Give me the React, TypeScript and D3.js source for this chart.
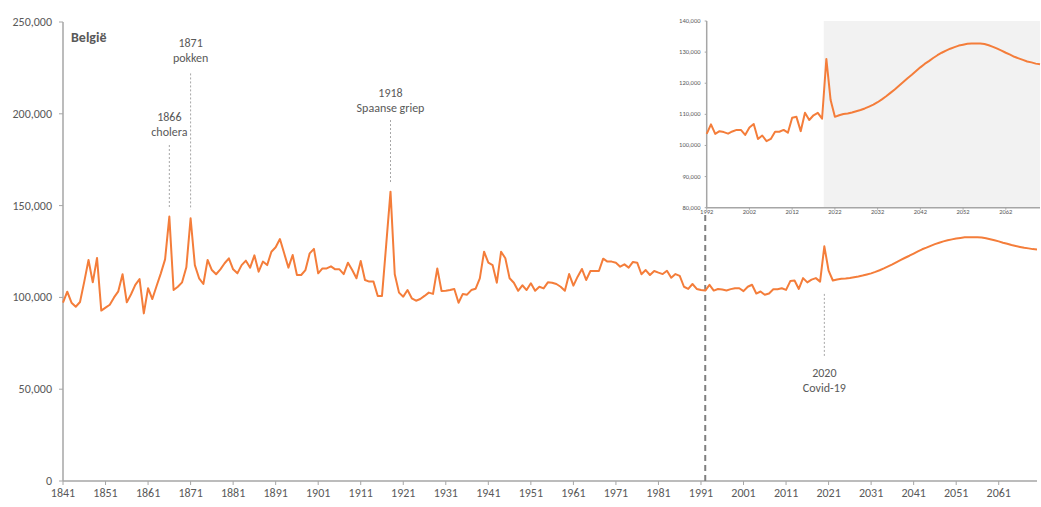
import React from 'react';
import * as d3 from 'd3';

const startYear = 1841;
// Deaths per year in Belgium (1841–2019 observed, 2020 Covid, 2021–2070 projection)
const deaths = [
  97100, 103100, 97100, 94900, 97500, 108600, 120400, 108200, 121500, 92800, // 1841-1850
  94400, 96000, 100000, 103300, 112600, 97300, 101700, 106800, 110000, 91300, // 1851-1860
  105000, 99100, 106200, 113100, 120700, 144000, 104000, 105800, 108200, 116400, // 1861-1870
  143100, 117600, 110400, 107300, 120400, 114900, 112600, 115300, 118600, 121300, // 1871-1880
  115300, 113100, 117600, 120000, 116200, 122900, 114000, 119500, 117600, 124900, // 1881-1890
  127300, 131800, 124000, 116200, 123100, 112200, 112200, 114900, 124000, 126400, // 1891-1900
  113100, 115800, 115800, 116900, 115300, 115300, 112700, 118900, 114900, 110400, // 1901-1910
  119800, 109500, 108600, 108600, 100800, 100800, 129000, 157600, 112600, 102600, // 1911-1920
  100400, 104000, 99500, 98200, 99100, 100800, 102600, 101900, 115800, 103500, // 1921-1930
  103600, 104000, 104600, 97100, 101900, 101500, 104000, 104700, 110400, 124900, // 1931-1940
  118900, 117600, 108000, 124900, 121300, 110400, 108000, 103600, 106600, 104000, // 1941-1950
  107700, 103600, 105800, 104900, 108200, 108000, 107300, 105800, 103600, 112700, // 1951-1960
  106400, 111300, 115500, 109500, 114400, 114400, 114400, 121100, 119500, 119500, // 1961-1970
  118900, 116700, 118000, 116200, 119300, 118900, 112600, 114900, 112200, 114400, // 1971-1980
  113500, 112700, 114500, 110700, 112700, 111700, 105800, 104600, 107300, 104600, // 1981-1990
  104000, 103700, 106800, 103700, 104600, 104300, 103800, 104500, 105000, 105000, // 1991-2000
  103400, 105800, 106900, 102100, 103200, 101400, 102100, 104400, 104400, 105000, // 2001-2010
  104100, 108900, 109200, 104600, 110500, 108200, 109700, 110500, 108600, 127800, // 2011-2020
  114600, 109200, 109700, 110100, 110300, 110600, 111000, 111400, 111900, 112500, // 2021-2030
  113100, 113900, 114800, 115800, 116900, 118000, 119200, 120400, 121600, 122700, // 2031-2040
  123900, 125100, 126200, 127100, 128100, 129000, 129800, 130500, 131100, 131600, // 2041-2050
  132100, 132400, 132700, 132800, 132800, 132800, 132600, 132200, 131700, 131100, // 2051-2060
  130500, 129800, 129200, 128500, 128000, 127500, 127000, 126700, 126300, 126100, // 2061-2070
];

const yTicks = [0, 50000, 100000, 150000, 200000, 250000];
const xTickYears = [1841, 1851, 1861, 1871, 1881, 1891, 1901, 1911, 1921, 1931, 1941, 1951, 1961, 1971, 1981, 1991, 2001, 2011, 2021, 2031, 2041, 2051, 2061];
const insetStartYear = 1992;
const insetYTicks = [80000, 90000, 100000, 110000, 120000, 130000, 140000];
const insetXTicks = [1992, 2002, 2012, 2022, 2032, 2042, 2052, 2062];
const projectionStart = 2019.4;

const annotationYears = [1866, 1871, 1918, 2020];
const annotationLabels = [['1866', 'cholera'], ['1871', 'pokken'], ['1918', 'Spaanse griep'], ['2020', 'Covid-19']];
// label value level, dashed line top value, dashed line bottom value
const annotationLevels = [
  [198300, 183000, 148500],
  [238600, 222000, 147800],
  [211200, 196600, 161800],
  [59000, 101900, 67400],
];

const title = 'België';

const ORANGE = '#F47D3A';
const GREY_TXT = '#595959';
const AXIS = '#A6A6A6';
const FONT = "Carlito, Calibri, 'Liberation Sans', Arial, sans-serif";

export default function App() {
  const years = deaths.map((_, i) => startYear + i);
  const x = d3.scaleLinear().domain([1841, 2070]).range([63, 1037]);
  const y = d3.scaleLinear().domain([0, 250000]).range([481, 22]);
  const line = d3.line<number>().x((_, i) => x(years[i])).y((d) => y(d));
  const fmt = d3.format(',');

  const insetIdx = years.map((yr, i) => (yr >= insetStartYear ? i : -1)).filter((i) => i >= 0);
  const ix = d3.scaleLinear().domain([1992, 2070]).range([706.7, 1040]);
  const iy = d3.scaleLinear().domain([80000, 140000]).range([207.7, 21]);
  const iline = d3.line<number>().x((i) => ix(years[i])).y((i) => iy(deaths[i]));

  return (
    <svg width={1041} height={507} style={{ position: 'absolute', left: 0, top: 0, fontFamily: FONT }}>
      <rect x={0} y={0} width={1041} height={507} fill="#fff" />
      {/* Inset background */}
      <rect x={ix(projectionStart)} y={iy(140000)} width={ix(2070) - ix(projectionStart)} height={iy(80000) - iy(140000)} fill="#F2F2F2" />

      {/* main y axis */}
      <line x1={63} x2={63} y1={y(250000)} y2={y(0)} stroke={AXIS} strokeWidth={1.5} />
      {yTicks.map((t) => (
        <g key={t}>
          <line x1={59} x2={63} y1={y(t)} y2={y(t)} stroke={AXIS} strokeWidth={1} />
          <text x={52} y={y(t)} textAnchor="end" dominantBaseline="central" fontSize={12} fill={GREY_TXT}>{fmt(t)}</text>
        </g>
      ))}
      {/* main x axis */}
      <line x1={63} x2={1037} y1={y(0)} y2={y(0)} stroke={AXIS} strokeWidth={1.5} />
      {xTickYears.map((t) => (
        <g key={t}>
          <line x1={x(t)} x2={x(t)} y1={y(0)} y2={y(0) + 4} stroke={AXIS} strokeWidth={1} />
          <text x={x(t)} y={493} textAnchor="middle" dominantBaseline="central" fontSize={12} fill={GREY_TXT}>{t}</text>
        </g>
      ))}

      <text x={71} y={37} fontSize={14} fontWeight="bold" fill={GREY_TXT} dominantBaseline="central">{title}</text>

      {/* annotations */}
      {annotationYears.map((yr, k) => (
        <g key={yr}>
          <line x1={x(yr)} x2={x(yr)} y1={y(annotationLevels[k][1])} y2={y(annotationLevels[k][2])} stroke={AXIS} strokeWidth={1} strokeDasharray="2,2" />
          {annotationLabels[k].map((s, j) => (
            <text key={j} x={x(yr)} y={y(annotationLevels[k][0]) + j * 15} textAnchor="middle" dominantBaseline="central" fontSize={12} fill={GREY_TXT}>{s}</text>
          ))}
        </g>
      ))}

      {/* 1992 divider */}
      <line x1={x(1992)} x2={x(1992)} y1={y(0)} y2={214} stroke="#7F7F7F" strokeWidth={2} strokeDasharray="6,4" />

      {/* main line */}
      <path d={line(deaths) || ''} fill="none" stroke={ORANGE} strokeWidth={2} strokeLinejoin="round" />

      {/* inset axes */}
      <line x1={ix(1992)} x2={ix(1992)} y1={iy(140000)} y2={iy(80000)} stroke={AXIS} strokeWidth={1.5} />
      <line x1={ix(1992)} x2={ix(2070)} y1={iy(80000)} y2={iy(80000)} stroke={AXIS} strokeWidth={1.5} />
      {insetYTicks.map((t) => (
        <g key={t}>
          <line x1={ix(1992) - 2} x2={ix(1992)} y1={iy(t)} y2={iy(t)} stroke={AXIS} strokeWidth={1} />
          <text x={700.5} y={iy(t)} textAnchor="end" dominantBaseline="central" fontSize={6.5} fill={GREY_TXT}>{fmt(t)}</text>
        </g>
      ))}
      {insetXTicks.map((t) => (
        <g key={t}>
          <line x1={ix(t)} x2={ix(t)} y1={iy(80000)} y2={iy(80000) + 2} stroke={AXIS} strokeWidth={1} />
          <text x={ix(t)} y={212} textAnchor="middle" dominantBaseline="central" fontSize={6.5} fill={GREY_TXT}>{t}</text>
        </g>
      ))}
      <path d={iline(insetIdx) || ''} fill="none" stroke={ORANGE} strokeWidth={2} strokeLinejoin="round" />
    </svg>
  );
}
